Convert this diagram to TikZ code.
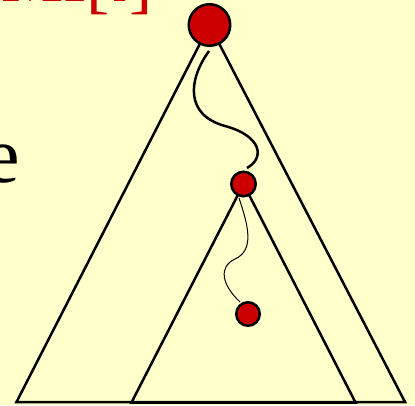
\documentclass[tikz,border=0pt]{standalone}
\usepackage{fontspec}
\setmainfont{Liberation Serif}
\definecolor{bgyellow}{HTML}{FFFFCC}
\definecolor{dotred}{HTML}{CC0000}
\begin{document}
\begin{tikzpicture}[x=1pt,y=-1pt,
  edge/.style={line width=2.5pt, line join=miter},
  dot/.style={circle, draw=black, line width=2.5pt, fill=dotred, inner sep=0pt},
  thickpath/.style={line width=2.5pt, line cap=butt},
  thinpath/.style={line width=1pt},
  txt/.style={inner sep=0pt, outer sep=0pt}]
\useasboundingbox (0,0) rectangle (415,405);
\fill[bgyellow] (0,0) rectangle (415,405);
\clip (0,0) rectangle (415,405);
% positions
\coordinate (rootc) at (209.5,25);
\coordinate (bl) at (16.5,402);
\coordinate (br) at (405,402);
\coordinate (midc) at (243.5,184);
\coordinate (ibl) at (131.5,402.5);
\coordinate (ibr) at (355.5,402.5);
\coordinate (lowc) at (248,314);
% triangles
\draw[edge] (rootc) -- (bl) -- (br) -- cycle;
\draw[edge] (midc) -- (ibl) -- (ibr) -- cycle;
% dots
\node[dot, minimum size=41.5pt] (root) at (rootc) {};
\node[dot, minimum size=24.5pt] (mid) at (midc) {};
\node[dot, minimum size=23.5pt] (low) at (lowc) {};
% wavy paths
\coordinate (p1) at (209,51);
\coordinate (p2) at (247,168);
\coordinate (q1) at (239,198);
\coordinate (q2) at (240,302);
\draw[thickpath] (p1) .. controls (188,80) and (185,115) .. (225,126)
                      .. controls (262,136) and (265,158) .. (p2);
\draw[thinpath] (q1) .. controls (248,225) and (255,250) .. (235,259)
                     .. controls (218,267) and (222,285) .. (q2);
% texts
\node[txt, anchor=base east, text=dotred, font=\fontsize{70}{70}\selectfont] (title) at (153,1)
  {MI\raisebox{-4pt}{[}\textit{i}\raisebox{-4pt}{]}};
\node[txt, anchor=base west, font=\fontsize{80}{80}\selectfont] (word) at (-16,182) {e};
\end{tikzpicture}
\end{document}
